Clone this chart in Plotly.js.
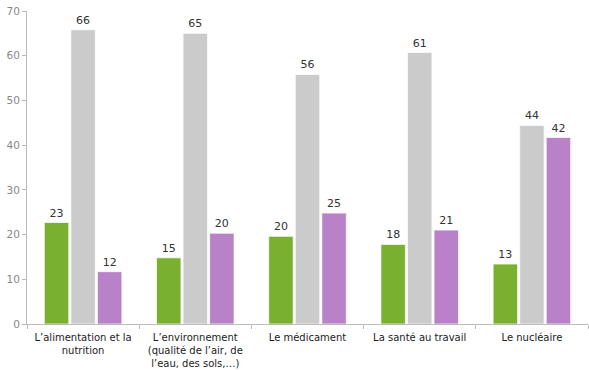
<!DOCTYPE html>
<html>
<head>
<meta charset="utf-8">
<script src="https://cdn.plot.ly/plotly-3.0.1.min.js"></script>
<style>html,body{margin:0;padding:0;background:#fff;}#chart{width:589px;height:370px;}</style>
</head>
<body>
<div id="chart"></div>
<script>
const categories = [
  "L’alimentation et la<br>nutrition",
  "L’environnement<br>(qualité de l’air, de<br>l’eau, des sols,…)",
  "Le médicament",
  "La santé au travail",
  "Le nucléaire"
];
const seriesGreen = [22.7, 14.8, 19.6, 17.8, 13.4];
const seriesGray = [65.8, 65.0, 55.8, 60.7, 44.4];
const seriesPurple = [11.7, 20.3, 24.8, 21.0, 41.7];
const yTicks = [0, 10, 20, 30, 40, 50, 60, 70];

function mk(y, color) {
  return {
    type: 'bar', x: categories, y: y,
    marker: {color: color, line: {color: 'rgba(255,255,255,0.7)', width: 1}},
    texttemplate: '%{y:.0f}', textposition: 'outside', cliponaxis: false,
    textfont: {family: 'DejaVu Sans, Verdana, sans-serif', size: 11, color: '#333'},
    hoverinfo: 'none'
  };
}
const data = [mk(seriesGreen, '#79b02f'), mk(seriesGray, '#cbcbcb'), mk(seriesPurple, '#b982c8')];
const layout = {
  width: 589, height: 370,
  margin: {l: 27, r: 1, t: 11, b: 46},
  paper_bgcolor: '#fff', plot_bgcolor: '#fff',
  showlegend: false,
  barmode: 'group', bargap: 0.29, bargroupgap: 0.08,
  font: {family: 'DejaVu Sans, Verdana, sans-serif', size: 11, color: '#222'},
  xaxis: {
    showline: true, linecolor: '#bbb', linewidth: 1,
    ticks: 'outside', ticklen: 4, tickcolor: '#bbb', tickson: 'boundaries',
    ticklabelstandoff: 4,
    tickfont: {size: 10, color: '#222'}, showgrid: false, fixedrange: true
  },
  yaxis: {
    range: [0, 70], tickvals: yTicks, showline: true, linecolor: '#bbb', linewidth: 1,
    ticks: 'outside', ticklen: 4, tickcolor: '#bbb',
    tickfont: {size: 10.5, color: '#888'}, showgrid: false, zeroline: false, fixedrange: true
  }
};
Plotly.newPlot('chart', data, layout, {displayModeBar: false, staticPlot: true});
</script>
</body>
</html>
